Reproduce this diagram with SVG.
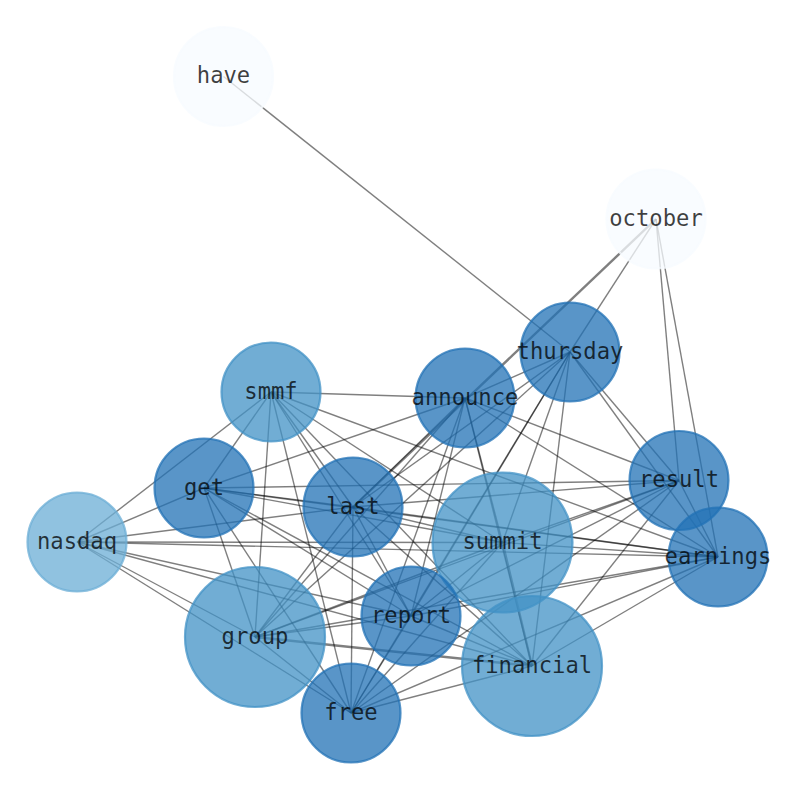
<svg xmlns="http://www.w3.org/2000/svg" width="794" height="790" viewBox="0 0 794 790">
<style>
.e line{stroke:#000;stroke-opacity:0.5;stroke-width:1.4}
.n circle{stroke-width:2.2;fill-opacity:0.75;stroke-opacity:0.75}
.d circle{fill:#2171b5;stroke:#2171b5}
.m circle{fill:#4292c6;stroke:#4292c6}
.l circle{fill:#6baed6;stroke:#6baed6}
.w circle{fill:#f7fbff;stroke:#f7fbff}
.n text{font-family:"DejaVu Sans Mono","Liberation Mono",monospace;font-size:22.2px;text-anchor:middle;fill:#000;fill-opacity:0.75}
</style>
<rect width="794" height="790" fill="#fff"/>
<g id="edges" class="e">
<line x1="223.5" y1="76.5" x2="570" y2="352"/>
<line x1="656" y1="219" x2="570" y2="352"/>
<line x1="656" y1="219" x2="353" y2="507" style="stroke-width:2.4"/>
<line x1="656" y1="219" x2="679" y2="480.5"/>
<line x1="656" y1="219" x2="718" y2="557"/>
<line x1="570" y1="352" x2="465" y2="398"/>
<line x1="570" y1="352" x2="353" y2="507"/>
<line x1="570" y1="352" x2="255" y2="637"/>
<line x1="570" y1="352" x2="411" y2="616"/>
<line x1="570" y1="352" x2="351" y2="713"/>
<line x1="570" y1="352" x2="502.5" y2="542.5"/>
<line x1="570" y1="352" x2="532" y2="666"/>
<line x1="570" y1="352" x2="679" y2="480.5"/>
<line x1="570" y1="352" x2="718" y2="557"/>
<line x1="465" y1="398" x2="271" y2="392"/>
<line x1="465" y1="398" x2="204" y2="488"/>
<line x1="465" y1="398" x2="353" y2="507"/>
<line x1="465" y1="398" x2="411" y2="616"/>
<line x1="465" y1="398" x2="351" y2="713"/>
<line x1="465" y1="398" x2="502.5" y2="542.5"/>
<line x1="465" y1="398" x2="532" y2="666"/>
<line x1="465" y1="398" x2="679" y2="480.5"/>
<line x1="465" y1="398" x2="718" y2="557"/>
<line x1="465" y1="398" x2="255" y2="637"/>
<line x1="271" y1="392" x2="77" y2="542"/>
<line x1="271" y1="392" x2="204" y2="488"/>
<line x1="271" y1="392" x2="255" y2="637"/>
<line x1="271" y1="392" x2="351" y2="713"/>
<line x1="271" y1="392" x2="353" y2="507"/>
<line x1="271" y1="392" x2="411" y2="616"/>
<line x1="271" y1="392" x2="502.5" y2="542.5"/>
<line x1="271" y1="392" x2="532" y2="666"/>
<line x1="271" y1="392" x2="718" y2="557"/>
<line x1="204" y1="488" x2="77" y2="542"/>
<line x1="204" y1="488" x2="353" y2="507"/>
<line x1="204" y1="488" x2="718" y2="557"/>
<line x1="204" y1="488" x2="502.5" y2="542.5"/>
<line x1="204" y1="488" x2="411" y2="616"/>
<line x1="204" y1="488" x2="532" y2="666"/>
<line x1="204" y1="488" x2="351" y2="713"/>
<line x1="204" y1="488" x2="255" y2="637"/>
<line x1="204" y1="488" x2="679" y2="480.5"/>
<line x1="77" y1="542" x2="353" y2="507"/>
<line x1="77" y1="542" x2="502.5" y2="542.5"/>
<line x1="77" y1="542" x2="718" y2="557"/>
<line x1="77" y1="542" x2="411" y2="616"/>
<line x1="77" y1="542" x2="532" y2="666"/>
<line x1="77" y1="542" x2="255" y2="637"/>
<line x1="77" y1="542" x2="351" y2="713"/>
<line x1="353" y1="507" x2="351" y2="713"/>
<line x1="353" y1="507" x2="411" y2="616"/>
<line x1="353" y1="507" x2="532" y2="666"/>
<line x1="353" y1="507" x2="502.5" y2="542.5"/>
<line x1="353" y1="507" x2="718" y2="557"/>
<line x1="353" y1="507" x2="679" y2="480.5"/>
<line x1="353" y1="507" x2="255" y2="637"/>
<line x1="255" y1="637" x2="502.5" y2="542.5"/>
<line x1="255" y1="637" x2="679" y2="480.5"/>
<line x1="255" y1="637" x2="411" y2="616"/>
<line x1="255" y1="637" x2="532" y2="666" style="stroke-width:2.4"/>
<line x1="255" y1="637" x2="351" y2="713"/>
<line x1="255" y1="637" x2="718" y2="557"/>
<line x1="411" y1="616" x2="502.5" y2="542.5"/>
<line x1="411" y1="616" x2="679" y2="480.5"/>
<line x1="411" y1="616" x2="532" y2="666"/>
<line x1="411" y1="616" x2="351" y2="713"/>
<line x1="411" y1="616" x2="718" y2="557"/>
<line x1="502.5" y1="542.5" x2="679" y2="480.5"/>
<line x1="502.5" y1="542.5" x2="718" y2="557"/>
<line x1="502.5" y1="542.5" x2="532" y2="666" style="stroke-width:2.4"/>
<line x1="502.5" y1="542.5" x2="351" y2="713"/>
<line x1="532" y1="666" x2="679" y2="480.5"/>
<line x1="532" y1="666" x2="718" y2="557"/>
<line x1="532" y1="666" x2="351" y2="713"/>
<line x1="351" y1="713" x2="679" y2="480.5"/>
<line x1="351" y1="713" x2="718" y2="557"/>
<line x1="679" y1="480.5" x2="718" y2="557"/>
</g>
<g id="node-have" class="n w"><circle cx="223.5" cy="76.5" r="49.5"/><text x="223.5" y="83">have</text></g>
<g id="node-october" class="n w"><circle cx="656" cy="219" r="49.5"/><text x="656" y="225.5">october</text></g>
<g id="node-thursday" class="n d"><circle cx="570" cy="352" r="49.5"/><text x="570" y="358.5">thursday</text></g>
<g id="node-announce" class="n d"><circle cx="465" cy="398" r="49.5"/><text x="465" y="404.5">announce</text></g>
<g id="node-smmf" class="n m"><circle cx="271" cy="392" r="49.5"/><text x="271" y="398.5">smmf</text></g>
<g id="node-get" class="n d"><circle cx="204" cy="488" r="49.5"/><text x="204" y="494.5">get</text></g>
<g id="node-last" class="n d"><circle cx="353" cy="507" r="49.5"/><text x="353" y="513.5">last</text></g>
<g id="node-result" class="n d"><circle cx="679" cy="480.5" r="49.5"/><text x="679" y="487">result</text></g>
<g id="node-nasdaq" class="n l"><circle cx="77" cy="542" r="49.5"/><text x="77" y="548.5">nasdaq</text></g>
<g id="node-summit" class="n m"><circle cx="502.5" cy="542.5" r="70"/><text x="502.5" y="549">summit</text></g>
<g id="node-earnings" class="n d"><circle cx="718" cy="557" r="49.5"/><text x="718" y="563.5">earnings</text></g>
<g id="node-report" class="n d"><circle cx="411" cy="616" r="49.5"/><text x="411" y="622.5">report</text></g>
<g id="node-group" class="n m"><circle cx="255" cy="637" r="70"/><text x="255" y="643.5">group</text></g>
<g id="node-financial" class="n m"><circle cx="532" cy="666" r="70"/><text x="532" y="672.5">financial</text></g>
<g id="node-free" class="n d"><circle cx="351" cy="713" r="49.5"/><text x="351" y="719.5">free</text></g>
</svg>
